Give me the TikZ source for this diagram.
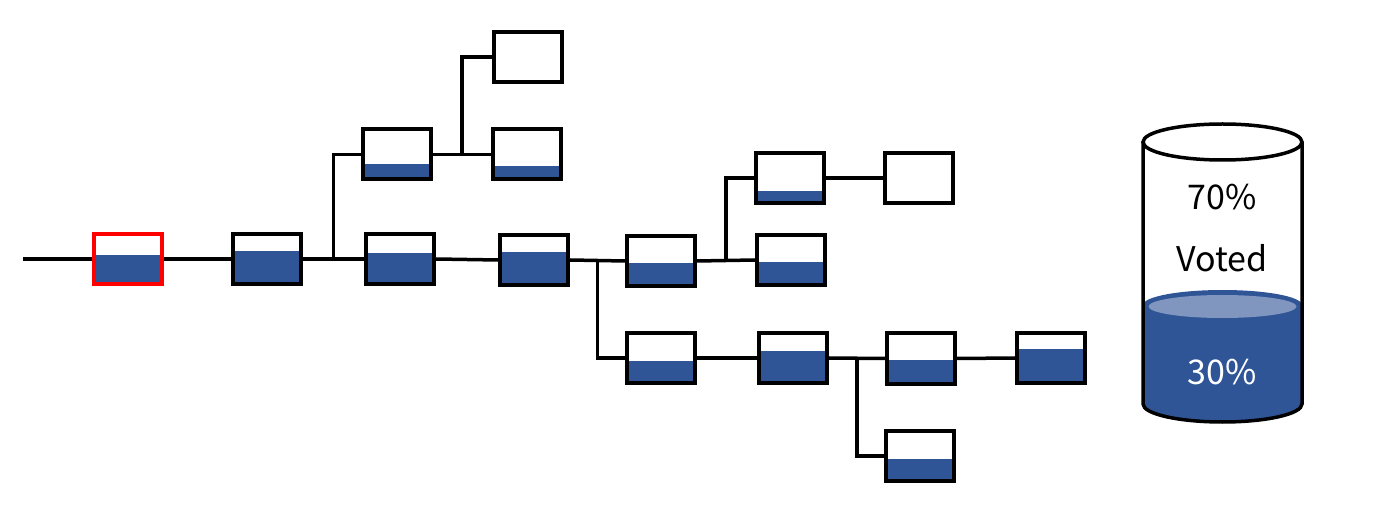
\documentclass[tikz,border=0pt]{standalone}
\usepackage{fontspec}
\setmainfont{Noto Sans CJK JP}
\usetikzlibrary{
  calc,
  positioning,
}
\definecolor{tankblue}{HTML}{2F5597}
\definecolor{tanktop}{HTML}{8096BF}

\begin{document}
\begin{tikzpicture}[x=1pt,y=1pt,
  font=\fontsize{34}{40}\selectfont,
  box/.style={draw,line width=4pt,inner sep=0pt,
    minimum width=68pt,minimum height=50pt,
    path picture={\fill[tankblue] (path picture bounding box.south west)
      rectangle ($(path picture bounding box.south east)!#1!(path picture bounding box.north east)$);}},
  cur/.style={draw=red},
  link/.style={line width=3.5pt}]
  \useasboundingbox (0,0) rectangle (1381,509);
  %% main chain
  \coordinate(Start) at (23,250);
  \node[box=.57,cur](R) at (128,250){};
  \node[box=.65](B2) at (267,250){};
  \node[box=.61](B3) at (400,250){};
  \node[box=.65](B4) at (534,249){};
  \node[box=.45](M5) at (661,248){};
  \node[box=.45](A3) at (791,249){};
  %% upper fork
  \node[box=.31](U1) at (397,354.5){};
  \node[box=0](U2) at (528,452){};
  \node[box=.27](U3) at (526.5,354.5){};
  \node[box=.24](A1) at (790,331){};
  \node[box=0](A2) at (918.5,331){};
  %% lower fork
  \node[box=.44](L1) at (661,151){};
  \node[box=.65](L2) at (793,151){};
  \node[box=.46](L3) at (921,150.5){};
  \node[box=.68](L4) at (1051,151){};
  \node[box=.45](L5) at (920,53){};
  %%
  \coordinate(J1) at ($(B2.east)!.5!(B3.west)$);
  \coordinate(J2) at ($(U1.east)!.5!(U3.west)$);
  \coordinate(J3) at ($(B4.east)!.5!(M5.west)$);
  \coordinate(J4) at ($(M5.east)!.5!(A3.west)$);
  \coordinate(J5) at ($(L2.east)!.5!(L3.west)$);
  \begin{scope}[link]
  \draw (Start) -- (R.west);
  \draw (R.east) -- (B2.west);
  \draw (B2.east) -- (B3.west);
  \draw (J1) |- (U1.west);
  \draw (U1.east) -- (U3.west);
  \draw (J2) |- (U2.west);
  \draw (B3.east) -- (B4.west);
  \draw (B4.east) -- (M5.west);
  \draw (J3) |- (L1.west);
  \draw (M5.east) -- (A3.west);
  \draw (J4) |- (A1.west);
  \draw (A1.east) -- (A2.west);
  \draw (L1.east) -- (L2.west);
  \draw (L2.east) -- (L3.west);
  \draw (J5) |- (L5.west);
  \draw (L3.east) -- (L4.west);
  \end{scope}
  %% cylinder
  \fill[tankblue] (1143,204) -- (1143,105) arc (180:360:79.5 and 18)
    -- (1302,204) arc (0:180:79.5 and 15) -- cycle;
  \fill[tanktop] (1222.5,202.5) ellipse (74 and 11.5);
  \draw[line width=3.5pt] (1143,367) -- (1143,105) arc (180:360:79.5 and 18)
    -- (1302,367);
  \draw[line width=3.5pt] (1222.5,367) ellipse (79.5 and 18);
  \node(Pct) at (1222,312){70\%};
  \node(Vot) at (1222,251){Voted};
  \node[text=white](Pct2) at (1222,137){30\%};
\end{tikzpicture}
\end{document}
